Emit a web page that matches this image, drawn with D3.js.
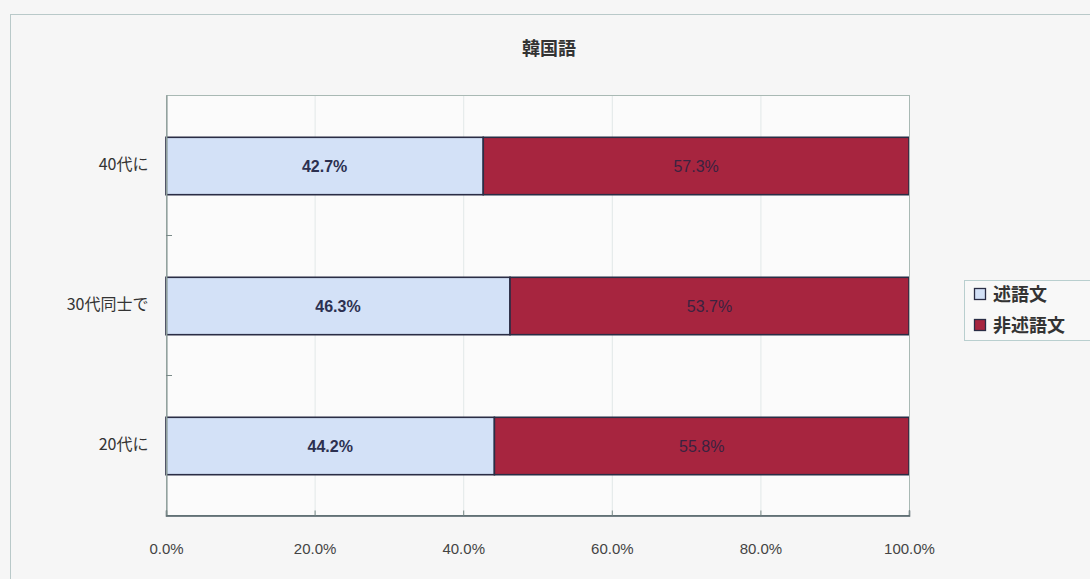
<!DOCTYPE html>
<html>
<head>
<meta charset="utf-8">
<script src="https://cdn.jsdelivr.net/npm/d3@7/dist/d3.min.js"></script>
<style>
  html, body { margin: 0; padding: 0; background: #f6f6f6; }
  svg { display: block; font-family: "Noto Sans CJK JP", "Noto Sans", sans-serif; }
</style>
</head>
<body>
<svg id="chart" width="1090" height="579"></svg>
<script>
// Age groups, top to bottom
const categories = ["40代に", "30代同士で", "20代に"];
const seriesNames = ["述語文", "非述語文"];
const predicate = [42.7, 46.3, 44.2];
const nonPredicate = [57.3, 53.7, 55.8];
const xTicks = [0, 20, 40, 60, 80, 100];
const colors = ["#d3e1f7", "#a7253f"];
const numFont = "'Liberation Sans', Arial, sans-serif";

const svg = d3.select("#chart");
const plot = { left: 166, right: 909, top: 95, bottom: 515 };

// Outer chart frame
svg.append("rect")
  .attr("x", 10.5).attr("y", 14.5)
  .attr("width", 1100).attr("height", 600)
  .attr("fill", "#f6f6f6")
  .attr("stroke", "#b9c9c9").attr("stroke-width", 1);

// Title
svg.append("text")
  .attr("x", 549).attr("y", 55)
  .attr("text-anchor", "middle")
  .attr("font-size", 18).attr("font-weight", "bold")
  .attr("fill", "#333")
  .text("韓国語");

const x = d3.scaleLinear().domain([0, 100]).range([plot.left, plot.right]);
const y = d3.scaleBand().domain(categories).range([plot.top, plot.bottom]).paddingInner(0).paddingOuter(0);

// Plot area background
svg.append("rect")
  .attr("x", plot.left).attr("y", plot.top)
  .attr("width", plot.right - plot.left).attr("height", plot.bottom - plot.top)
  .attr("fill", "#fbfbfb");

// Vertical gridlines
svg.append("g")
  .selectAll("line")
  .data(xTicks.slice(1, -1))
  .join("line")
  .attr("x1", d => x(d) + 0.5).attr("x2", d => x(d) + 0.5)
  .attr("y1", plot.top).attr("y2", plot.bottom)
  .attr("stroke", "#e2e8e8").attr("stroke-width", 1);

// Stacked bars
const rows = categories.map((c, i) => ({ cat: c, values: [predicate[i], nonPredicate[i]] }));
const barH = y.bandwidth() * 0.41;
rows.forEach(r => {
  let start = 0;
  r.values.forEach((v, j) => {
    const yc = y(r.cat) + y.bandwidth() / 2 + 1;
    svg.append("rect")
      .attr("x", x(start)).attr("y", yc - barH / 2)
      .attr("width", x(start + v) - x(start)).attr("height", barH)
      .attr("fill", colors[j])
      .attr("stroke", "#2a2d45").attr("stroke-width", 1.6);
    svg.append("text")
      .attr("x", x(start + v / 2)).attr("y", yc + 6)
      .attr("text-anchor", "middle")
      .attr("font-size", 16)
      .attr("font-weight", j === 0 ? "bold" : "normal")
      .style("font-family", numFont)
      .attr("fill", j === 0 ? "#2c3050" : "#3a2240")
      .text(v.toFixed(1) + "%");
    start += v;
  });
});

// Plot frame
svg.append("rect")
  .attr("x", plot.left + 0.5).attr("y", plot.top + 0.5)
  .attr("width", plot.right - plot.left).attr("height", plot.bottom - plot.top)
  .attr("fill", "none").attr("stroke", "#a9b9b4").attr("stroke-width", 1);

// X axis
const xAxis = svg.append("g")
  .attr("transform", `translate(0,${plot.bottom + 0.5})`)
  .call(d3.axisBottom(x).tickValues(xTicks).tickSize(-5).tickPadding(28).tickFormat(d => d.toFixed(1) + "%"));
xAxis.select(".domain").attr("stroke", "#4a5a60").attr("stroke-width", 1.5);
xAxis.selectAll(".tick line").attr("stroke", "#7a8a88");
xAxis.selectAll(".tick text")
  .attr("font-size", 15).attr("fill", "#444")
  .style("font-family", numFont);

// Y axis
const yAxis = svg.append("g")
  .attr("transform", `translate(${plot.left + 0.5},0)`)
  .call(d3.axisLeft(y).tickSize(0).tickPadding(18));
yAxis.select(".domain").attr("stroke", "#7a8a88");
yAxis.selectAll(".tick text")
  .attr("font-size", 16).attr("fill", "#333")
  .style("font-family", "'Noto Sans CJK JP', sans-serif");

// Category separators on y axis
svg.append("g")
  .selectAll("line")
  .data(categories.slice(1))
  .join("line")
  .attr("x1", plot.left).attr("x2", plot.left + 6)
  .attr("y1", d => y(d) + 0.5).attr("y2", d => y(d) + 0.5)
  .attr("stroke", "#7a8a88");

// Legend
const lg = svg.append("g").attr("transform", "translate(964,280)");
lg.append("rect")
  .attr("x", 0.5).attr("y", 0.5).attr("width", 140).attr("height", 60)
  .attr("fill", "#f8f8f8").attr("stroke", "#b9cfcf");
seriesNames.forEach((name, i) => {
  const g = lg.append("g").attr("transform", `translate(10,${15 + i * 31})`);
  g.append("rect")
    .attr("x", 0.5).attr("y", -6.5).attr("width", 11).attr("height", 11)
    .attr("fill", colors[i]).attr("stroke", "#2a2d45").attr("stroke-width", 1.3);
  g.append("text")
    .attr("x", 19).attr("y", 6)
    .attr("font-size", 18).attr("font-weight", "bold").attr("fill", "#333")
    .text(name);
});
</script>
</body>
</html>
